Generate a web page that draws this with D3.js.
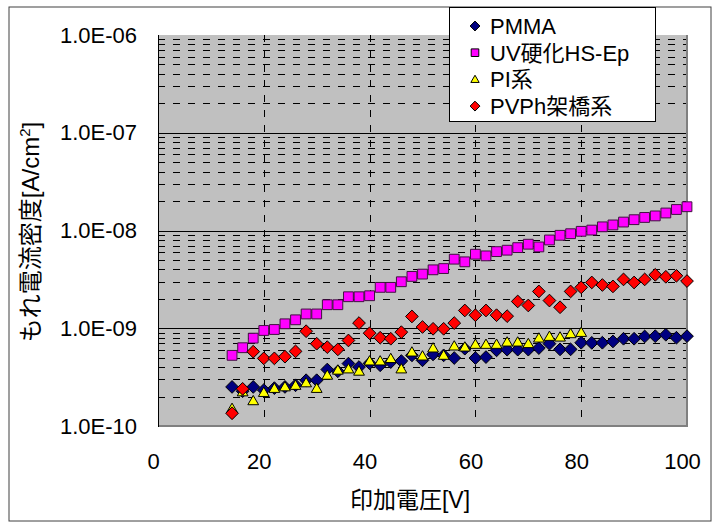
<!DOCTYPE html>
<html>
<head>
<meta charset="utf-8">
<script src="https://cdn.jsdelivr.net/npm/d3@7"></script>
<style>
  body { margin: 0; background: #fff; }
  text { font-family: "Liberation Sans", Arial, "Noto Sans CJK JP", sans-serif; }
</style>
</head>
<body>
<svg id="chart" width="714" height="525"></svg>
<script>
    // applied voltage [V], one sample every 2 V
    const voltage = [14, 16, 18, 20, 22, 24, 26, 28, 30, 32, 34, 36, 38, 40, 42, 44, 46, 48, 50, 52, 54, 56,
        58, 60, 62, 64, 66, 68, 70, 72, 74, 76, 78, 80, 82, 84, 86, 88, 90, 92, 94, 96, 98, 100];

    // leak current density [A/cm2]
    const pmma = [2.51e-10, 2.27e-10, 2.51e-10, 2.33e-10, 2.44e-10, 2.51e-10, 2.61e-10, 2.94e-10, 2.94e-10, 3.78e-10,
        3.63e-10, 4.35e-10, 4.01e-10, 4.38e-10, 4.18e-10, 4.51e-10, 4.62e-10, 5.28e-10, 4.70e-10, 5.40e-10,
        5.28e-10, 4.96e-10, 6.18e-10, 4.96e-10, 5.07e-10, 5.94e-10, 6.04e-10, 6.04e-10, 6.04e-10, 6.27e-10,
        6.95e-10, 6.08e-10, 6.08e-10, 7.11e-10, 7.09e-10, 7.11e-10, 7.33e-10, 7.81e-10, 7.81e-10, 8.24e-10,
        8.30e-10, 8.58e-10, 8.00e-10, 8.30e-10];
    const uvEp = [5.28e-10, 6.32e-10, 7.92e-10, 9.49e-10, 9.71e-10, 1.11e-9, 1.22e-9, 1.40e-9, 1.40e-9, 1.74e-9,
        1.74e-9, 2.10e-9, 2.10e-9, 2.15e-9, 2.62e-9, 2.62e-9, 2.99e-9, 3.39e-9, 3.58e-9, 3.96e-9,
        4.08e-9, 5.09e-9, 4.78e-9, 5.72e-9, 5.50e-9, 6.08e-9, 6.29e-9, 6.68e-9, 7.24e-9, 6.79e-9,
        8.00e-9, 8.93e-9, 9.27e-9, 9.81e-9, 1.01e-8, 1.09e-8, 1.14e-8, 1.22e-8, 1.29e-8, 1.36e-8,
        1.41e-8, 1.51e-8, 1.64e-8, 1.75e-8];
    // PI only measured up to 80 V
    const pi = [1.51e-10, 2.23e-10, 1.81e-10, 2.20e-10, 2.42e-10, 2.51e-10, 2.60e-10, 2.76e-10, 2.42e-10, 3.30e-10,
        3.72e-10, 3.83e-10, 3.63e-10, 4.62e-10, 4.62e-10, 4.89e-10, 3.83e-10, 5.70e-10, 5.19e-10, 6.27e-10,
        5.28e-10, 6.57e-10, 6.41e-10, 6.83e-10, 6.83e-10, 6.83e-10, 7.21e-10, 7.21e-10, 6.95e-10, 7.92e-10,
        8.24e-10, 8.11e-10, 8.78e-10, 9.05e-10];
    const pvph = [1.35e-10, 2.40e-10, 5.76e-10, 4.92e-10, 4.92e-10, 5.12e-10, 5.80e-10, 9.33e-10, 6.95e-10, 6.41e-10,
        6.08e-10, 7.50e-10, 1.13e-9, 8.90e-10, 8.00e-10, 7.81e-10, 9.12e-10, 1.32e-9, 1.03e-9, 9.87e-10,
        9.87e-10, 1.13e-9, 1.52e-9, 1.36e-9, 1.52e-9, 1.36e-9, 1.33e-9, 1.88e-9, 1.71e-9, 2.38e-9,
        1.92e-9, 1.64e-9, 2.38e-9, 2.62e-9, 2.94e-9, 2.77e-9, 2.68e-9, 3.16e-9, 2.94e-9, 3.16e-9,
        3.52e-9, 3.36e-9, 3.44e-9, 3.04e-9];

    const seriesNames = ["PMMA", "UV硬化HS-Ep", "PI系", "PVPh架橋系"];
    const seriesValues = [pmma, uvEp, pi, pvph];
    const seriesFill = ["#000080", "#ff00ff", "#ffff00", "#ff0000"];
    const seriesShape = ["diamond", "square", "triangle", "diamond"];

    const xTicks = [0, 20, 40, 60, 80, 100];
    const yTicks = [1e-10, 1e-9, 1e-8, 1e-7, 1e-6];

    const svg = d3.select("#chart");

    // chart frame
    svg.append("rect")
        .attr("x", 9).attr("y", 7)
        .attr("width", 702).attr("height", 514)
        .attr("fill", "#fff").attr("stroke", "#404040").attr("stroke-width", 1);

    const plotL = 158, plotR = 687, plotT = 35, plotB = 426;
    const x = d3.scaleLinear().domain([0, 100]).range([plotL, plotR]);
    const y = d3.scaleLog().domain([1e-10, 1e-6]).range([plotB, plotT]);

    // plot area
    svg.append("rect")
        .attr("x", plotL).attr("y", plotT)
        .attr("width", plotR - plotL).attr("height", plotB - plotT)
        .attr("fill", "#c0c0c0");

    const grid = svg.append("g").attr("class", "grid");

    // minor dashed lines, 2..9 inside each decade
    const minor = [];
    for (let e = -10; e < -6; e++) {
        for (let m = 2; m <= 9; m++) minor.push(m * Math.pow(10, e));
    }
    grid.selectAll(".minor")
        .data(minor)
        .enter().append("line")
        .attr("class", "minor")
        .attr("x1", plotL).attr("x2", plotR)
        .attr("y1", d => Math.round(y(d)) + 0.5).attr("y2", d => Math.round(y(d)) + 0.5)
        .attr("stroke", "#000").attr("stroke-width", 1)
        .attr("stroke-dasharray", "7,8");

    // major solid lines at the decades
    grid.selectAll(".major")
        .data(yTicks.slice(1, 4))
        .enter().append("line")
        .attr("class", "major")
        .attr("x1", plotL).attr("x2", plotR)
        .attr("y1", d => Math.round(y(d)) + 0.5).attr("y2", d => Math.round(y(d)) + 0.5)
        .attr("stroke", "#000").attr("stroke-width", 1);

    // vertical dashed lines
    grid.selectAll(".vline")
        .data(xTicks.slice(1, 5))
        .enter().append("line")
        .attr("class", "vline")
        .attr("x1", d => Math.round(x(d)) + 0.5).attr("x2", d => Math.round(x(d)) + 0.5)
        .attr("y1", plotT).attr("y2", plotB)
        .attr("stroke", "#000").attr("stroke-width", 1)
        .attr("stroke-dasharray", "7,8");

    // plot border: gray right/bottom, black left axis
    svg.append("path")
        .attr("d", `M${plotR},${plotT}V${plotB}H${plotL}`)
        .attr("fill", "none").attr("stroke", "#808080").attr("stroke-width", 2);
    svg.append("line")
        .attr("x1", plotL + 0.5).attr("x2", plotL + 0.5)
        .attr("y1", plotT).attr("y2", plotB + 1)
        .attr("stroke", "#000").attr("stroke-width", 1);

    // axes (labels only, lines drawn above)
    const fmtExp = d => {
        const e = Math.round(Math.log10(d));
        return "1.0E-" + String(-e).padStart(2, "0");
    };
    const yAxis = svg.append("g")
        .attr("transform", `translate(${plotL},0)`)
        .call(d3.axisLeft(y).tickValues(yTicks).tickFormat(fmtExp).tickSize(0).tickPadding(21));
    yAxis.select(".domain").remove();
    yAxis.selectAll("text").attr("font-size", 22).attr("fill", "#000")
        .attr("font-family", "Liberation Sans, Arial, sans-serif");

    const xAxis = svg.append("g")
        .attr("transform", `translate(0,${plotB})`)
        .call(d3.axisBottom(x).tickValues(xTicks).tickSize(0).tickPadding(27));
    xAxis.select(".domain").remove();
    xAxis.selectAll("text").attr("font-size", 22).attr("fill", "#000").attr("dx", -5)
        .attr("font-family", "Liberation Sans, Arial, sans-serif");

    // axis titles
    svg.append("text")
        .attr("x", 410).attr("y", 508)
        .attr("text-anchor", "middle")
        .attr("font-size", 23)
        .text("印加電圧[V]");

    const yTitle = svg.append("text")
        .attr("transform", "translate(39,232) rotate(-90)")
        .attr("text-anchor", "middle")
        .attr("font-size", 24);
    yTitle.append("tspan").text("もれ電流密度[A/cm");
    yTitle.append("tspan").attr("dy", -9).attr("font-size", 15).text("2");
    yTitle.append("tspan").attr("dy", 9).text("]");

    // marker shapes
    function markerPath(shape, s) {
        if (shape === "square") return `M${-s},${-s}H${s}V${s}H${-s}Z`;
        if (shape === "triangle") return `M0,${-s * 1.1}L${s * 1.1},${s * 0.8}H${-s * 1.1}Z`;
        return `M0,${-s * 1.3}L${s * 1.3},0L0,${s * 1.3}L${-s * 1.3},0Z`;
    }

    // series, drawn in legend order so later ones sit on top
    seriesValues.forEach((vals, k) => {
        svg.append("g")
            .attr("class", "series")
            .selectAll("path")
            .data(vals)
            .enter().append("path")
            .attr("d", markerPath(seriesShape[k], 4.9))
            .attr("transform", (d, i) => `translate(${x(voltage[i])},${y(d)})`)
            .attr("fill", seriesFill[k])
            .attr("stroke", k === 1 ? "#401040" : "#000")
            .attr("stroke-width", 1);
    });

    // legend
    const legend = svg.append("g").attr("class", "legend");
    legend.append("rect")
        .attr("x", 449.5).attr("y", 7.5)
        .attr("width", 206).attr("height", 114)
        .attr("fill", "#fff").attr("stroke", "#000").attr("stroke-width", 1);
    seriesNames.forEach((name, k) => {
        const ly = 26 + k * 26.7;
        legend.append("path")
            .attr("d", markerPath(seriesShape[k], 3.8))
            .attr("transform", `translate(475,${ly})`)
            .attr("fill", seriesFill[k])
            .attr("stroke", "#000").attr("stroke-width", 1);
        legend.append("text")
            .attr("x", 490).attr("y", ly)
            .attr("dy", "0.36em")
            .attr("font-size", 22)
            .text(name);
    });
</script>
</body>
</html>
